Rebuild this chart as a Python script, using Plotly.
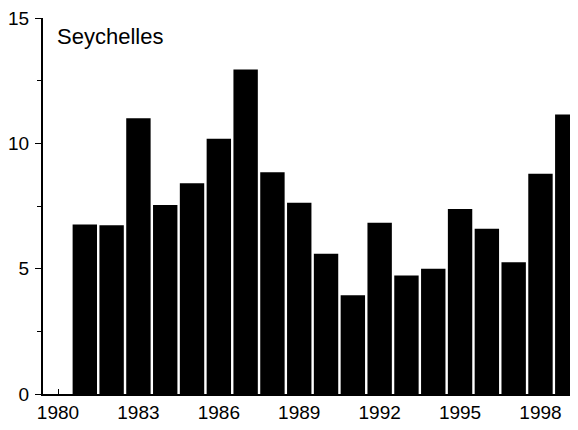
import plotly.graph_objects as go

years = list(range(1981, 2000))
values = [6.76, 6.73, 11.0, 7.54, 8.41, 10.18, 12.95, 8.85, 7.63, 5.6,
          3.94, 6.83, 4.73, 5.0, 7.38, 6.59, 5.26, 8.79, 11.15]
x_ticks = [1980, 1983, 1986, 1989, 1992, 1995, 1998]
y_ticks = [0, 5, 10, 15]
title_text = "Seychelles"

fig = go.Figure(go.Bar(x=years, y=values, marker=dict(color="black", line=dict(width=0)),
                       width=0.91))

font = dict(family="Liberation Sans, Arial, sans-serif", size=19, color="black")

fig.update_layout(
    width=570, height=422,
    margin=dict(l=35, r=0, t=10, b=36),
    plot_bgcolor="white", paper_bgcolor="white",
    showlegend=False,
    font=font,
    xaxis=dict(range=[1979.44, 1999.4], tickvals=x_ticks, ticktext=[str(v) for v in x_ticks],
               showgrid=False, zeroline=False, showline=True, linecolor="black", linewidth=2,
               ticks="inside", ticklen=5, tickcolor="black", tickwidth=1,
               ticklabelstandoff=0, tickfont=font, automargin=False,
               ticklabeloverflow="allow"),
    yaxis=dict(range=[0, 15], tickvals=y_ticks, showgrid=False, zeroline=False,
               showline=True, linecolor="black", linewidth=2,
               ticks="outside", ticklen=6, tickcolor="black", tickwidth=1,
               minor=dict(tickvals=[2.5, 7.5, 12.5], ticks="outside", ticklen=4,
                          tickcolor="black", tickwidth=1),
               tickfont=font, ticklabelstandoff=2, automargin=False,
               ticklabeloverflow="allow"),
    annotations=[dict(text=title_text, xref="x", yref="y", x=1979.89, y=14.28,
                      xanchor="left", yanchor="middle", showarrow=False,
                      font=dict(family="Liberation Sans, Arial, sans-serif", size=22, color="black"))],
)

fig.write_html("out.html")
